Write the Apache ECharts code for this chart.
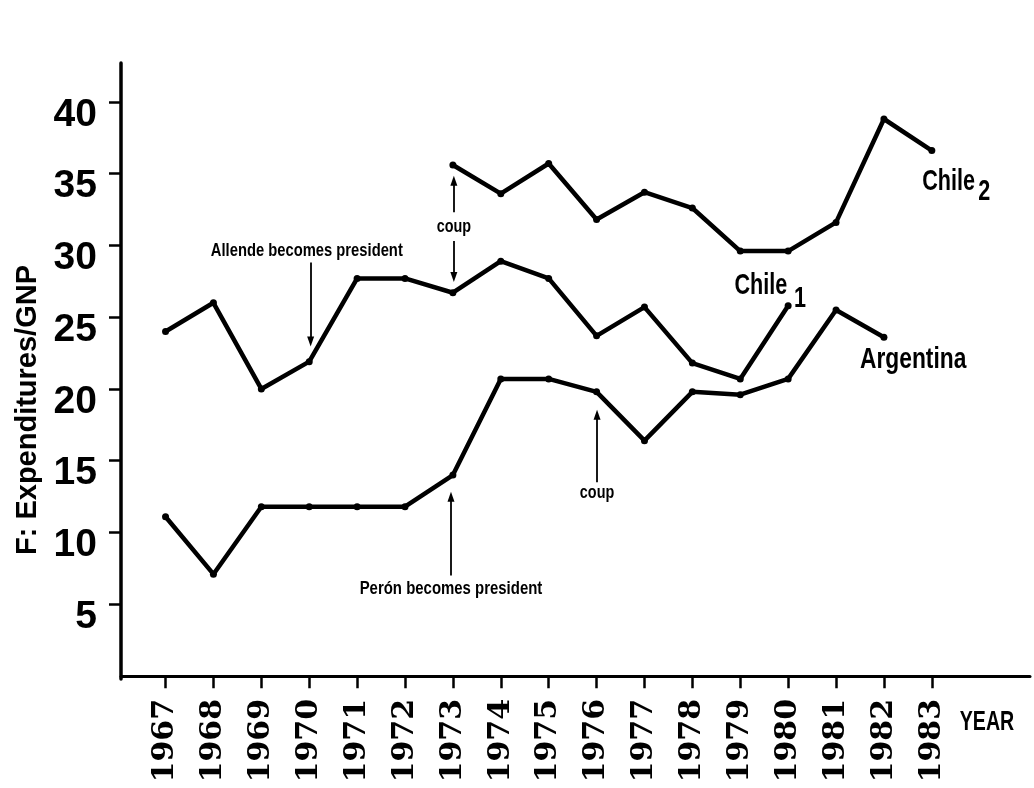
<!DOCTYPE html>
<html>
<head>
<meta charset="utf-8">
<script src="https://cdn.jsdelivr.net/npm/echarts@6/dist/echarts.min.js"></script>
<style>
  html, body { margin: 0; padding: 0; background: #fff; }
  #chart { width: 1034px; height: 788px; }
</style>
</head>
<body>
<div id="chart"></div>
<script>
// years on the axis
const years = [1967, 1968, 1969, 1970, 1971, 1972, 1973, 1974, 1975,
               1976, 1977, 1978, 1979, 1980, 1981, 1982, 1983];
const yTicks = [5, 10, 15, 20, 25, 30, 35, 40];

// Chile 1 (1967-1980)
const chile1Years = [1967, 1968, 1969, 1970, 1971, 1972, 1973, 1974, 1975, 1976, 1977, 1978, 1979, 1980];
const chile1Vals = [24.0, 26.0, 20.0, 21.9, 27.7, 27.7, 26.7, 28.9, 27.7, 23.7, 25.7, 21.8, 20.7, 25.8];

// Chile 2 (1973-1983)
const chile2Years = [1973, 1974, 1975, 1976, 1977, 1978, 1979, 1980, 1981, 1982, 1983];
const chile2Vals = [35.6, 33.6, 35.7, 31.8, 33.7, 32.6, 29.6, 29.6, 31.6, 38.8, 36.6];

// Argentina (1967-1982)
const argYears = [1967, 1968, 1969, 1970, 1971, 1972, 1973, 1974, 1975, 1976, 1977, 1978, 1979, 1980, 1981, 1982];
const argVals = [11.1, 7.1, 11.8, 11.8, 11.8, 11.8, 14.0, 20.7, 20.7, 19.8, 16.4, 19.8, 19.6, 20.7, 25.5, 23.6];

const SANS = '"Liberation Sans", Arial, sans-serif';
const SERIF = '"DejaVu Serif", serif';

const pairs = (xs, vs) => xs.map((x, i) => [x, vs[i]]);

function lineSeries(name, xs, vs, extra) {
  return Object.assign({
    name,
    type: 'line',
    data: pairs(xs, vs),
    symbol: 'circle',
    symbolSize: 7,
    itemStyle: { color: '#000' },
    lineStyle: { color: '#000', width: 4.5 },
    silent: true
  }, extra || {});
}

// vertical arrow as a markLine pair, in data coords
function arrow(x, from, to) {
  return [{ coord: [x, from] }, { coord: [x, to] }];
}

const chart = echarts.init(document.getElementById('chart'));
chart.setOption({
  animation: false,
  backgroundColor: '#fff',
  grid: { left: 121, right: 4, top: 63, bottom: 109 },
  xAxis: {
    type: 'value',
    min: 1966.07,
    max: 1985.05,
    splitLine: { show: false },
    axisLine: { lineStyle: { color: '#000', width: 3 } },
    axisTick: { customValues: years, length: 12, lineStyle: { color: '#000', width: 2.5 } },
    axisLabel: {
      customValues: years,
      rotate: 90,
      margin: 20,
      color: '#000',
      fontFamily: SERIF,
      fontWeight: 'bold',
      fontSize: 30,
      formatter: v => String(v)
    }
  },
  yAxis: {
    type: 'value',
    min: -0.2,
    max: 42.7,
    splitLine: { show: false },
    axisLine: { lineStyle: { color: '#000', width: 3.5 } },
    axisTick: { customValues: yTicks, length: 12, lineStyle: { color: '#000', width: 2.5 } },
    axisLabel: {
      customValues: yTicks,
      margin: 24,
      color: '#000',
      fontFamily: SANS,
      fontWeight: 'bold',
      fontSize: 39,
      verticalAlign: 'top',
      lineHeight: 26
    }
  },
  series: [
    lineSeries('Chile1', chile1Years, chile1Vals, {
      markLine: {
        silent: true,
        symbol: ['none', 'triangle'],
        symbolSize: [7, 10],
        label: { show: false },
        lineStyle: { color: '#000', width: 1.8, type: 'solid' },
        data: [
          arrow(1970.03, 28.8, 23.3),   // Allende
          arrow(1973.02, 32.3, 34.5),   // coup up
          arrow(1973.02, 30.3, 27.8),   // coup down
          arrow(1976.01, 13.5, 18.2),   // coup (Argentina)
          arrow(1972.96, 7.0, 12.5)     // Perón
        ]
      }
    }),
    lineSeries('Chile2', chile2Years, chile2Vals),
    lineSeries('Argentina', argYears, argVals)
  ]
});

// text annotations placed in data coords
function px(x, y) { return chart.convertToPixel({ xAxisIndex: 0, yAxisIndex: 0 }, [x, y]); }

function txt(x, y, text, size, sx, align) {
  const p = px(x, y);
  return {
    type: 'text', x: p[0], y: p[1], scaleX: sx, silent: true,
    style: {
      text, fill: '#000', font: 'bold ' + size + 'px ' + SANS,
      align: align || 'center', verticalAlign: 'middle'
    }
  };
}

chart.setOption({
  graphic: [
    txt(1969.95, 29.6, 'Allende becomes president', 18, 0.82),
    txt(1973.02, 31.3, 'coup', 18, 0.8),
    txt(1976.01, 12.75, 'coup', 18, 0.8),
    txt(1972.96, 6.05, 'Perón becomes president', 18, 0.83),
    txt(1978.88, 27.2, 'Chile', 30, 0.72, 'left'),
    txt(1980.12, 26.3, '1', 30, 0.72, 'left'),
    txt(1982.8, 34.4, 'Chile', 30, 0.72, 'left'),
    txt(1983.97, 33.7, '2', 30, 0.72, 'left'),
    txt(1981.5, 22.0, 'Argentina', 30, 0.76, 'left'),
    {
      type: 'text', x: 987, y: 722, scaleX: 0.7, silent: true,
      style: { text: 'YEAR', fill: '#000', font: 'bold 28px ' + SANS, align: 'center', verticalAlign: 'middle' }
    },
    {
      type: 'text', x: 28, y: 410, rotation: Math.PI / 2, silent: true,
      style: { text: 'F: Expenditures/GNP', fill: '#000', font: 'bold 29px ' + SANS, align: 'center', verticalAlign: 'middle' }
    }
  ]
});
</script>
</body>
</html>
